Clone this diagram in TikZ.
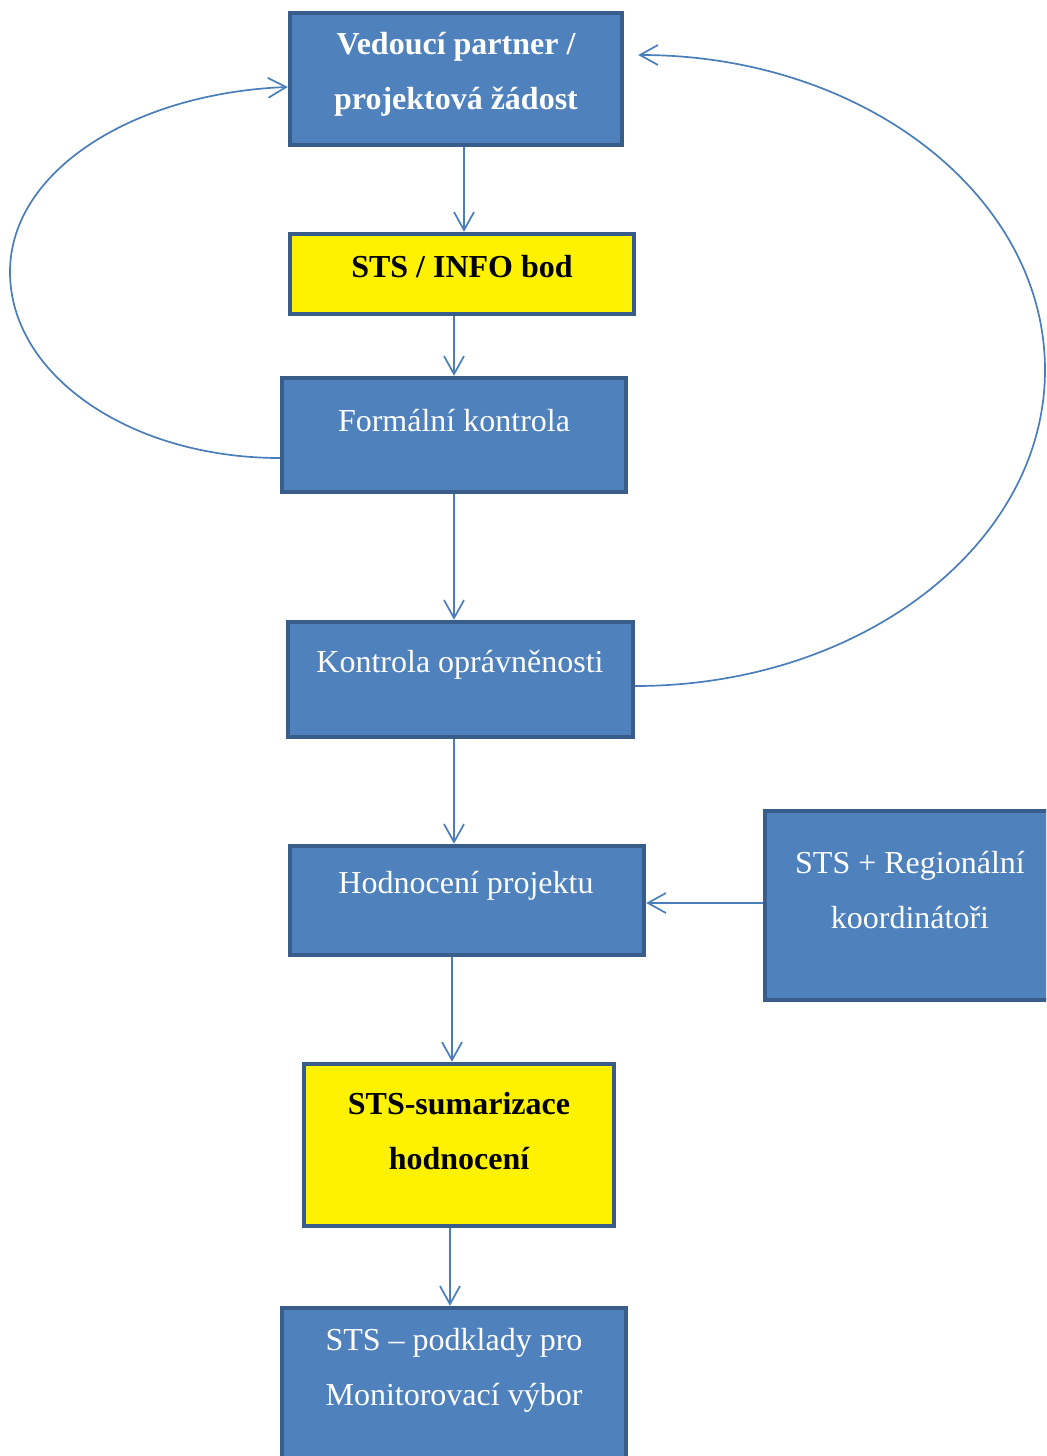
\documentclass[tikz,border=0pt]{standalone}
\usepackage{fontspec}
\setmainfont{Liberation Serif}
\usetikzlibrary{arrows.meta,calc}

\definecolor{boxblue}{HTML}{4F81BD}
\definecolor{boxedge}{HTML}{385D8A}
\definecolor{flowblue}{HTML}{4A7EBB}

\tikzset{
    bluebox/.style={rectangle, draw=boxedge, line width=2.2pt, fill=boxblue, inner sep=0pt},
    yellowbox/.style={bluebox, fill=yellow},
    whitetext/.style={text=white, align=center, inner sep=0pt, font=\fontsize{16}{27.5}\selectfont},
    boldtext/.style={whitetext, font=\fontsize{16}{27.5}\selectfont\bfseries},
    blacktext/.style={boldtext, text=black},
    flow/.style={draw=flowblue, line width=0.85pt, -{Straight Barb[length=9pt,width=10pt]}}
}

\begin{document}
\begin{tikzpicture}[x=0.5pt, y=-0.5pt]
            \path[use as bounding box, clip] (0,0) rectangle (1046,1456);

            \node (VP) at (456,79) [bluebox, minimum width=166pt, minimum height=66pt] {};
            \node (INFO) at (462,274) [yellowbox, minimum width=172pt, minimum height=40pt] {};
            \node (FK) at (454,435) [bluebox, minimum width=172pt, minimum height=57pt] {};
            \node (KO) at (460.5,679.5) [bluebox, minimum width=172.5pt, minimum height=57.5pt] {};
            \node (HP) at (467,900.5) [bluebox, minimum width=177pt, minimum height=54.5pt] {};
            \node (RK) at (1015,905.5) [bluebox, minimum width=250pt, minimum height=94.5pt] {};
            \node (SH) at (459,1145) [yellowbox, minimum width=155pt, minimum height=81pt] {};
            \node (MV) at (454,1394) [bluebox, minimum width=172pt, minimum height=86pt] {};

            \node (VP-t) at (456,74) [boldtext] {Vedoucí partner /\\projektová žádost};
            \node (INFO-t) at (462,267) [blacktext] {STS / INFO bod};
            \node (FK-t) at (454,421) [whitetext] {Formální kontrola};
            \node (KO-t) at (460,665) [whitetext] {Kontrola oprávněnosti};
            \node (HP-t) at (466,886) [whitetext] {Hodnocení projektu};
            \node (RK-t) at (910,890.5) [whitetext] {STS + Regionální\\koordinátoři};
            \node (SH-t) at (459,1131) [blacktext] {STS-sumarizace\\hodnocení};
            \node (MV-t) at (454,1370.5) [whitetext] {STS – podklady pro\\Monitorovací výbor};

            \foreach \a/\b/\s in {VP/INFO/4pt, INFO/FK/-4pt, FK/KO/0pt, KO/HP/-3.25pt, HP/SH/-7.5pt, SH/MV/-4.5pt}
                {
                    \draw [flow] ([xshift=\s]\a.south) -- ([xshift=\s]\a.south |- \b.north);
                }

            \draw [flow] (RK.west |- 0,903) -- (HP.east |- 0,903);

            \coordinate (L) at (10,272);
            \coordinate (R) at (1045,370);

            \draw [flow] ([yshift=-11.5pt]FK.west) .. controls +(-150,0) and +(0,103) .. (L)
                .. controls +(0,-102) and +(-153,6) .. ([yshift=-4pt]VP.west);
            \draw [flow] ([yshift=-3.25pt]KO.east) .. controls +(227,0) and +(0,174) .. (R)
                .. controls +(0,-174) and +(226,0) .. ([xshift=7pt,yshift=12pt]VP.east);

        \end{tikzpicture}
\end{document}
